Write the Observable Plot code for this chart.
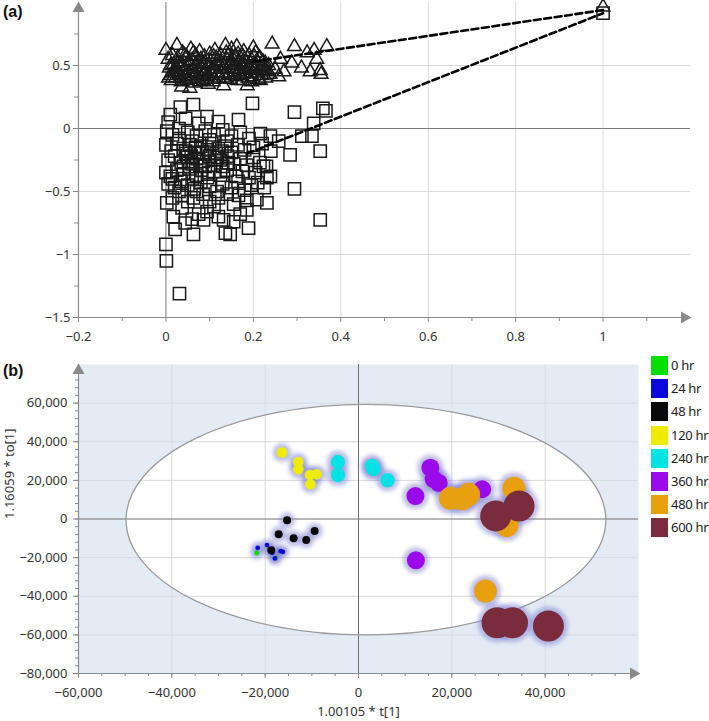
<!DOCTYPE html>
<html><head><meta charset="utf-8">
<script src="https://cdn.jsdelivr.net/npm/d3@7"></script>
<script src="https://cdn.jsdelivr.net/npm/@observablehq/plot@0.6"></script>
<style>
body{margin:0;background:#fff;font-family:"Noto Sans",sans-serif;}
#wrap{position:relative;width:709px;height:721px;overflow:hidden;background:#fff;}
#a{position:absolute;left:0;top:0;}
#b{position:absolute;left:0;top:345px;}
.tag{position:absolute;font:bold 16px "Liberation Sans",Arial,sans-serif;color:#111;}
#legend{position:absolute;left:651px;top:356px;}
.li{position:relative;height:23.2px;}
.sw{position:absolute;left:0;top:0;width:17px;height:19px;}
.lt{position:absolute;left:20px;top:0;line-height:19px;font-size:13px;letter-spacing:-0.3px;color:#222;white-space:nowrap;}
</style></head><body>
<div id="wrap">
 <div id="a"></div><div id="b"></div>
 <div class="tag" style="left:3px;top:3px">(a)</div>
 <div class="tag" style="left:3px;top:362px">(b)</div>
 <div id="legend"></div>
</div>
<script>
// ---------------- Panel (a) data ----------------
const aTriangles = [
[0.000,0.62],[0.005,0.55],[0.008,0.48],[0.010,0.42],[0.012,0.38],[0.015,0.58],[0.018,0.51],[0.020,0.45],[0.022,0.40],[0.025,0.66],
[0.027,0.56],[0.030,0.49],[0.032,0.43],[0.035,0.37],[0.036,0.33],[0.038,0.60],[0.040,0.53],[0.042,0.46],[0.045,0.41],[0.047,0.57],
[0.050,0.50],[0.052,0.44],[0.054,0.39],[0.055,0.32],[0.057,0.63],[0.060,0.54],[0.062,0.47],[0.064,0.42],[0.066,0.36],[0.068,0.58],
[0.070,0.51],[0.072,0.45],[0.075,0.40],[0.077,0.61],[0.080,0.55],[0.082,0.48],[0.084,0.43],[0.086,0.38],[0.088,0.57],[0.090,0.52],
[0.092,0.46],[0.095,0.41],[0.097,0.35],[0.100,0.59],[0.102,0.53],[0.105,0.47],[0.107,0.42],[0.110,0.39],[0.112,0.62],[0.115,0.56],
[0.117,0.50],[0.120,0.44],[0.122,0.40],[0.125,0.58],[0.127,0.52],[0.130,0.47],[0.132,0.34],[0.134,0.42],[0.136,0.66],[0.138,0.60],
[0.140,0.54],[0.142,0.48],[0.145,0.43],[0.147,0.39],[0.150,0.63],[0.152,0.56],[0.155,0.50],[0.157,0.45],[0.160,0.41],[0.162,0.65],
[0.165,0.59],[0.167,0.53],[0.170,0.47],[0.172,0.42],[0.175,0.38],[0.178,0.61],[0.180,0.55],[0.182,0.49],[0.184,0.44],[0.186,0.34],
[0.188,0.40],[0.190,0.58],[0.193,0.52],[0.195,0.46],[0.198,0.41],[0.200,0.64],[0.202,0.57],[0.205,0.60],[0.207,0.50],[0.210,0.44],
[0.212,0.39],[0.215,0.56],[0.218,0.48],[0.220,0.42],[0.222,0.53],[0.225,0.46],[0.228,0.40],[0.231,0.45],[0.235,0.50],[0.238,0.43],
[0.243,0.67],[0.250,0.47],[0.258,0.41],[0.262,0.55],[0.270,0.45],[0.288,0.52],[0.294,0.65],[0.310,0.48],[0.323,0.60],[0.330,0.45],
[0.339,0.62],[0.345,0.55],[0.353,0.46],[0.355,0.43],[0.368,0.65],
[0.015,0.44],[0.028,0.52],[0.043,0.58],[0.058,0.44],[0.073,0.53],[0.087,0.45],[0.103,0.44],[0.118,0.54],[0.128,0.44],[0.148,0.52],
[0.158,0.57],[0.173,0.51],[0.192,0.48],[0.208,0.54],[0.223,0.49],[0.006,0.40],[0.033,0.40],[0.048,0.38],[0.078,0.37],[0.093,0.39],
[0.108,0.37],[0.138,0.40],[0.163,0.38],[0.178,0.43],[0.196,0.37],[0.216,0.38],
[0.011,0.50],[0.024,0.47],[0.039,0.50],[0.053,0.53],[0.067,0.49],[0.083,0.51],[0.098,0.50],[0.113,0.47],[0.133,0.50],[0.153,0.47],
[0.168,0.45],[0.183,0.52],[0.203,0.47],[0.227,0.52],[0.063,0.60],[0.109,0.57],[0.143,0.58],[0.176,0.57]
];
const aSquares = [
[0.033,0.17],[0.063,0.19],[0.198,0.20],[0.294,0.13],[0.359,0.16],[0.366,0.14],
[0.010,0.11],[0.005,0.05],[0.094,0.095],[0.120,0.055],[0.166,0.07],[0.045,0.08],[0.075,0.04],[0.338,0.04],
[0.002,-0.02],[0.015,-0.05],[0.030,0.00],[0.050,-0.03],[0.070,-0.06],[0.090,-0.02],[0.110,-0.05],[0.130,-0.01],[0.150,-0.06],[0.170,-0.03],
[0.190,-0.08],[0.216,-0.04],[0.239,-0.06],[0.258,-0.10],[0.311,-0.06],[0.334,-0.06],[0.030,-0.08],[0.060,-0.10],[0.100,-0.09],[0.140,-0.10],
[0.000,-0.13],[0.012,-0.18],[0.025,-0.12],[0.040,-0.16],[0.055,-0.13],[0.065,-0.19],[0.080,-0.14],[0.095,-0.17],[0.105,-0.12],[0.120,-0.16],
[0.135,-0.14],[0.150,-0.19],[0.165,-0.13],[0.180,-0.17],[0.200,-0.15],[0.220,-0.12],[0.240,-0.18],[0.284,-0.21],[0.353,-0.18],[0.045,-0.20],
[0.075,-0.20],[0.115,-0.20],
[0.005,-0.25],[0.020,-0.22],[0.035,-0.27],[0.050,-0.23],[0.060,-0.28],[0.070,-0.24],[0.085,-0.26],[0.100,-0.22],[0.110,-0.29],[0.125,-0.25],
[0.140,-0.22],[0.155,-0.28],[0.170,-0.24],[0.185,-0.29],[0.200,-0.23],[0.215,-0.27],[0.230,-0.30],[0.040,-0.30],[0.090,-0.30],[0.130,-0.30],
[0.000,-0.35],[0.010,-0.38],[0.025,-0.33],[0.040,-0.36],[0.055,-0.32],[0.070,-0.37],[0.080,-0.33],[0.095,-0.39],[0.110,-0.34],[0.125,-0.37],
[0.140,-0.33],[0.160,-0.38],[0.175,-0.34],[0.190,-0.39],[0.205,-0.35],[0.223,-0.30],[0.231,-0.39],[0.239,-0.38],[0.015,-0.40],[0.060,-0.40],
[0.005,-0.44],[0.020,-0.47],[0.035,-0.42],[0.050,-0.45],[0.065,-0.48],[0.080,-0.43],[0.100,-0.46],[0.117,-0.50],[0.130,-0.44],[0.150,-0.47],
[0.165,-0.42],[0.180,-0.49],[0.195,-0.45],[0.210,-0.43],[0.225,-0.47],[0.294,-0.48],[0.070,-0.50],[0.030,-0.50],
[0.002,-0.59],[0.015,-0.55],[0.037,-0.53],[0.063,-0.55],[0.085,-0.52],[0.100,-0.58],[0.120,-0.55],[0.140,-0.52],[0.166,-0.53],[0.185,-0.57],
[0.208,-0.565],[0.231,-0.59],[0.050,-0.58],[0.155,-0.60],
[0.017,-0.70],[0.021,-0.80],[0.037,-0.63],[0.044,-0.75],[0.063,-0.84],[0.075,-0.68],[0.086,-0.725],[0.094,-0.66],[0.110,-0.62],[0.132,-0.725],
[0.136,-0.83],[0.147,-0.84],[0.155,-0.74],[0.185,-0.645],[0.189,-0.79],[0.170,-0.68],[0.120,-0.70],[0.060,-0.72],[0.353,-0.725],
[0.000,-0.92],[0.001,-1.05],[0.031,-1.31],
[0.045,-0.18],[0.058,-0.22],[0.068,-0.15],[0.052,-0.26],[0.083,-0.19],[0.078,-0.29],[0.118,-0.23],[0.128,-0.18],[0.143,-0.27],[0.098,-0.35]
];
const aSelTriangle = [[1.0, 0.965]];
const aSelSquare = [[1.0, 0.915]];
const aDashTri = [[0.20, 0.53], [1.0, 0.94]];
const aDashSq = [[0.185, -0.20], [1.0, 0.915]];
const aXDomain = [-0.2, 1.2];
const aYDomain = [-1.5, 1.0];
const aXTicks = [-0.2, 0, 0.2, 0.4, 0.6, 0.8, 1];
const aXMinor = [-0.1, 0.1, 0.3, 0.5, 0.7, 0.9, 1.1];
const aYTicks = [-1.5, -1, -0.5, 0, 0.5];
const aYMinor = [-1.25, -0.75, -0.25, 0.25, 0.75];
const aXGrid = [0.2, 0.4, 0.6, 0.8, 1];
const aYGrid = [-1, -0.5, 0.5];

// ---------------- Panel (b) data ----------------
const groups = ["0 hr", "24 hr", "48 hr", "120 hr", "240 hr", "360 hr", "480 hr", "600 hr"];
const hr0   = [[-21800,-17600],[-17800,-20200]];
const hr24  = [[-21600,-14900],[-19600,-13500],[-16700,-16600],[-16200,-17000],[-17900,-20400],[-18500,-17500]];
const hr48  = [[-15300,-700],[-17100,-7900],[-13900,-10000],[-11200,-10900],[-9400,-6200],[-18700,-16200]];
const hr120 = [[-16400,34400],[-12900,29500],[-12900,25800],[-10400,22800],[-9000,23200],[-10300,18000]];
const hr240 = [[-4400,29500],[-4400,22800],[2900,27500],[3200,25900],[6200,20100]];
const hr360 = [[15400,26600],[16100,20700],[17200,18700],[12200,11900],[26500,15400],[12300,-21400]];
const hr480 = [[19700,10700],[23600,12800],[22200,10400],[33300,15900],[31800,-3400],[27200,-37300]];
const hr600 = [[29400,1600],[34400,6700],[29700,-53700],[33000,-53700],[40700,-55400]];
const ellipseCenter = [1700, -600];
const ellipseRadii = [51400, 59700];
const bXDomain = [-60000, 60000];
const bYDomain = [-80000, 80000];
const bXTicks = [-60000, -40000, -20000, 0, 20000, 40000];
const bXMinor = d3.range(-55000, 60000, 5000);
const bYTicks = [-80000, -60000, -40000, -20000, 0, 20000, 40000, 60000];
const bYMinor = d3.range(-76000, 80000, 4000);
const bXGrid = [-40000, -20000, 20000, 40000];
const bYGrid = [-60000, -40000, -20000, 20000, 40000, 60000];
const bXTitle = "1.00105 * t[1]";
const bYTitle = "1.16059 * to[1]";

// ---------------- styles ----------------
const groupColors = ["#00e000", "#0a0ad8", "#0a0a0a", "#f0ec00", "#00e2e4", "#9a0aea", "#e8a010", "#7a2c3c"];
const groupRadius = [2.4, 2.4, 4, 5.3, 7.2, 9, 11.5, 15.5];
const axisGrey = "#8a8a8a";
const labelColor = "#333";

const groupData = [hr0, hr24, hr48, hr120, hr240, hr360, hr480, hr600];
const bPoints = groupData.flatMap((arr, i) => arr.map(([x, y]) => ({x, y, i})));

// ---------------- Panel (a) ----------------
const fmtA = d3.format("~g");
const px = d => d[0], py = d => d[1];
const plotA = Plot.plot({
  width: 709, height: 345,
  marginLeft: 78, marginRight: 19, marginTop: 2, marginBottom: 28,
  x: {domain: aXDomain},
  y: {domain: aYDomain},
  style: {fontFamily: '"Noto Sans", sans-serif', fontSize: "13px", color: labelColor, background: "transparent"},
  marks: [
    Plot.ruleX(aXGrid, {stroke: "#dcdcdc", strokeWidth: 1}),
    Plot.ruleY(aYGrid, {stroke: "#dcdcdc", strokeWidth: 1}),
    Plot.ruleX([0], {stroke: "#7a7a7a", strokeWidth: 1}),
    Plot.ruleY([0], {stroke: "#7a7a7a", strokeWidth: 1}),
    Plot.ruleY([aYDomain[0]], {stroke: axisGrey, strokeWidth: 1.2}),
    Plot.ruleX([aXDomain[0]], {stroke: axisGrey, strokeWidth: 1.2}),
    Plot.axisX(aXTicks, {tickSize: 5, tickPadding: 9, tickFormat: fmtA, stroke: axisGrey, fill: labelColor, fontSize: 13, label: null}),
    Plot.axisX(aXMinor, {tickSize: 4, tickFormat: () => "", stroke: axisGrey, label: null}),
    Plot.axisY(aYTicks, {tickSize: 5, tickPadding: 3, tickFormat: fmtA, stroke: axisGrey, fill: labelColor, fontSize: 13, label: null}),
    Plot.axisY(aYMinor, {tickSize: 4, tickFormat: () => "", stroke: axisGrey, label: null}),
    Plot.dot([[aXDomain[1], aYDomain[0]]], {x: px, y: py, symbol: "triangle", rotate: 90, r: 4.5, fill: axisGrey, stroke: null, dx: -6}),
    Plot.dot([[aXDomain[0], aYDomain[1]]], {x: px, y: py, symbol: "triangle", rotate: 0, r: 4.5, fill: axisGrey, stroke: null, dy: 6}),
    Plot.dot(aSquares, {x: px, y: py, symbol: "square", r: 6.9, fill: "none", stroke: "#1a1a1a", strokeWidth: 1.5}),
    Plot.dot(aTriangles, {x: px, y: py, symbol: "triangle", r: 5.1, fill: "none", stroke: "#1a1a1a", strokeWidth: 1.5}),
    Plot.dot(aSelSquare, {x: px, y: py, symbol: "square", r: 6.9, fill: "none", stroke: "#1a1a1a", strokeWidth: 1.5}),
    Plot.dot(aSelTriangle, {x: px, y: py, symbol: "triangle", r: 5.1, fill: "none", stroke: "#1a1a1a", strokeWidth: 1.5}),
    Plot.line(aDashTri, {x: px, y: py, stroke: "#000", strokeWidth: 2.6, strokeDasharray: "7,3.5"}),
    Plot.line(aDashSq, {x: px, y: py, stroke: "#000", strokeWidth: 2.6, strokeDasharray: "7,3.5"})
  ]
});
document.getElementById("a").appendChild(plotA);

// ---------------- Panel (b) ----------------
const fmtB = d3.format(",");
function ellipseFill(index, scales) {
  const e = document.createElementNS("http://www.w3.org/2000/svg", "ellipse");
  const cx = scales.x(ellipseCenter[0]), cy = scales.y(ellipseCenter[1]);
  e.setAttribute("cx", cx); e.setAttribute("cy", cy);
  e.setAttribute("rx", Math.abs(scales.x(ellipseCenter[0] + ellipseRadii[0]) - cx));
  e.setAttribute("ry", Math.abs(scales.y(ellipseCenter[1] + ellipseRadii[1]) - cy));
  e.setAttribute("fill", "#ffffff"); e.setAttribute("stroke", "none");
  return e;
}
function ellipseStroke(index, scales) {
  const e = ellipseFill(index, scales);
  e.setAttribute("fill", "none"); e.setAttribute("stroke", "#9a9a9a"); e.setAttribute("stroke-width", "1.3");
  return e;
}
const plotB = Plot.plot({
  width: 709, height: 376,
  marginLeft: 78, marginRight: 71, marginTop: 19, marginBottom: 48,
  x: {domain: bXDomain},
  y: {domain: bYDomain},
  r: {type: "identity"},
  style: {fontFamily: '"Noto Sans", sans-serif', fontSize: "13px", color: labelColor, background: "transparent"},
  marks: [
    Plot.frame({fill: "#e3ecf5", stroke: null}),
    ellipseFill,
    Plot.ruleX(bXGrid, {stroke: "#d6dbe0", strokeWidth: 1}),
    Plot.ruleY(bYGrid, {stroke: "#d6dbe0", strokeWidth: 1}),
    Plot.ruleX([0], {stroke: "#707070", strokeWidth: 1}),
    Plot.ruleY([0], {stroke: "#707070", strokeWidth: 1}),
    ellipseStroke,
    Plot.ruleY([bYDomain[0]], {stroke: axisGrey, strokeWidth: 1.2}),
    Plot.ruleX([bXDomain[0]], {stroke: axisGrey, strokeWidth: 1.2}),
    Plot.axisX(bXTicks, {tickSize: 5, tickPadding: 9, tickFormat: fmtB, stroke: axisGrey, fill: labelColor, fontSize: 13, label: null}),
    Plot.axisX(bXMinor, {tickSize: 3, tickFormat: () => "", stroke: axisGrey, label: null}),
    Plot.axisY(bYTicks, {tickSize: 5, tickPadding: 6, tickFormat: fmtB, stroke: axisGrey, fill: labelColor, fontSize: 13, label: null}),
    Plot.axisY(bYMinor, {tickSize: 3, tickFormat: () => "", stroke: axisGrey, label: null}),
    Plot.dot([[bXDomain[1], bYDomain[0]]], {x: px, y: py, symbol: "triangle", rotate: 90, r: 4.5, fill: axisGrey, stroke: null, dx: -5}),
    Plot.dot([[bXDomain[0], bYDomain[1]]], {x: px, y: py, symbol: "triangle", rotate: 0, r: 4.5, fill: axisGrey, stroke: null, dy: 6}),
    Plot.dot(bPoints, {x: "x", y: "y", r: d => groupRadius[d.i] + 4, fill: "#7c7cd0", fillOpacity: 0.5, stroke: null, sort: null}),
    Plot.dot(bPoints, {x: "x", y: "y", r: d => groupRadius[d.i], fill: d => groupColors[d.i], stroke: null, sort: null}),
    Plot.text([bXTitle], {frameAnchor: "bottom", dy: 42, fontSize: 13, fill: labelColor}),
    Plot.text([bYTitle], {frameAnchor: "left", dx: -69, rotate: -90, fontSize: 13, fill: labelColor})
  ]
});
// soft glow filter for halos
const ns = "http://www.w3.org/2000/svg";
const defs = document.createElementNS(ns, "defs");
const filt = document.createElementNS(ns, "filter");
filt.setAttribute("id", "glow"); filt.setAttribute("x", "-20%"); filt.setAttribute("y", "-20%");
filt.setAttribute("width", "140%"); filt.setAttribute("height", "140%");
const blur = document.createElementNS(ns, "feGaussianBlur");
blur.setAttribute("stdDeviation", "2.2");
filt.appendChild(blur); defs.appendChild(filt); plotB.insertBefore(defs, plotB.firstChild);
const dotGroups = plotB.querySelectorAll('g[aria-label="dot"]');
// first two dot groups are the axis arrows; third is the halo layer
if (dotGroups.length >= 3) dotGroups[2].setAttribute("filter", "url(#glow)");
document.getElementById("b").appendChild(plotB);

// legend
const leg = document.getElementById("legend");
groups.forEach((g, i) => {
  const row = document.createElement("div"); row.className = "li";
  const sw = document.createElement("div"); sw.className = "sw"; sw.style.background = groupColors[i];
  const t = document.createElement("div"); t.className = "lt"; t.textContent = g;
  row.appendChild(sw); row.appendChild(t); leg.appendChild(row);
});
</script></body></html>
